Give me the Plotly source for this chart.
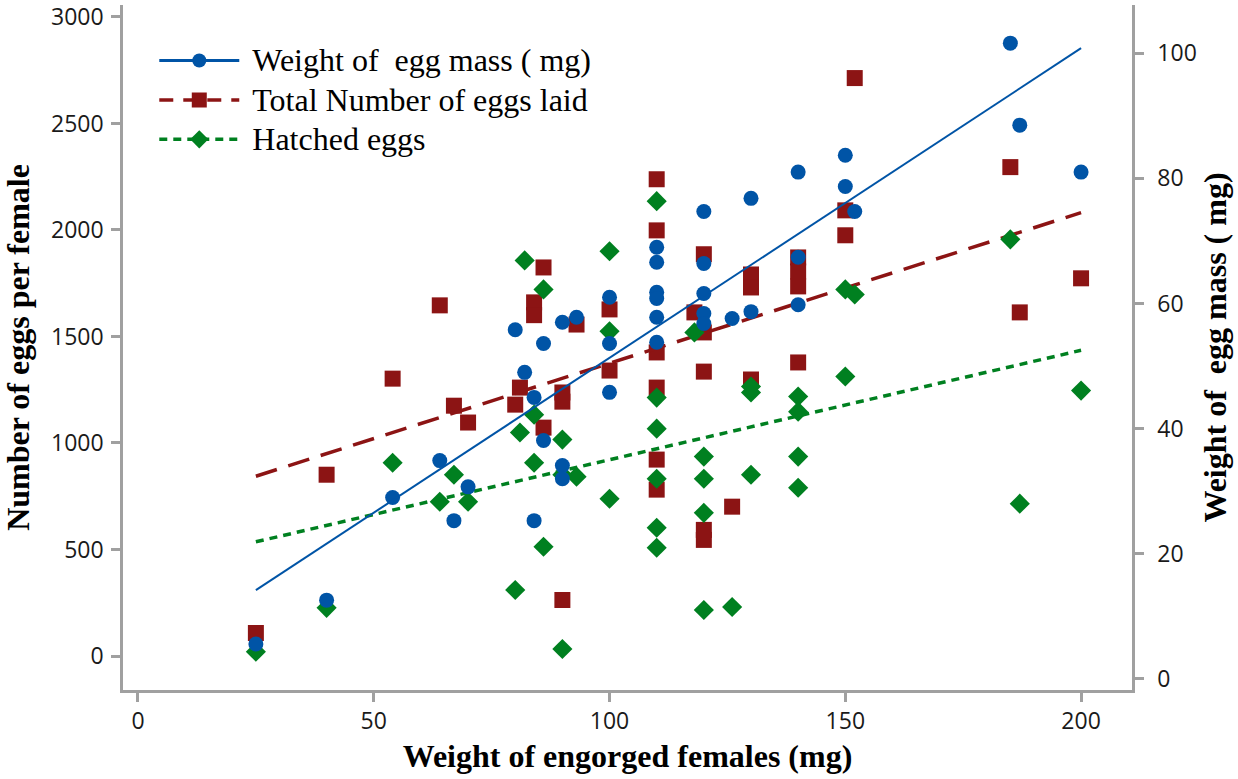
import plotly.graph_objects as go

# ---------------- data ----------------
mass_x = [25, 40, 54, 64, 67, 70, 80, 82, 84, 84, 86, 86, 90, 90, 90, 93,
          100, 100, 100, 110, 110, 110, 110, 110, 110, 120, 120, 120, 120, 120,
          126, 130, 130, 140, 140, 140, 150, 150, 152, 185, 187, 200]
mass_y = [5.6, 12.6, 29.0, 34.9, 25.3, 30.7, 55.8, 49.0, 45.0, 25.3, 53.6, 38.1,
          57.0, 34.1, 32.0, 57.8, 61.0, 53.6, 45.8, 69.0, 66.6, 61.8, 60.8, 57.8, 53.8,
          74.7, 66.4, 61.6, 58.4, 56.8, 57.6, 76.8, 58.7, 81.0, 67.4, 59.8,
          83.7, 78.7, 74.7, 101.6, 88.5, 81.0]

laid_x = [25, 40, 54, 64, 67, 70, 80, 81, 84, 84, 86, 86, 90, 90, 90, 93,
          100, 100, 110, 110, 110, 110, 110, 110, 118, 120, 120, 120, 120, 120,
          126, 130, 130, 130, 140, 140, 140, 140, 150, 150, 152, 185, 187, 200]
laid_y = [108, 851, 1302, 1646, 1175, 1096, 1180, 1260, 1660, 1600, 1824, 1072,
          1237, 1194, 263, 1556, 1627, 1340, 2238, 1998, 1425, 1260, 922, 781,
          1613, 1886, 1519, 1335, 592, 545, 701, 1791, 1730, 1298,
          1871, 1805, 1735, 1378, 2092, 1975, 2713, 2295, 1613, 1773]

hatch_x = [25, 40, 54, 64, 67, 70, 80, 81, 82, 84, 84, 86, 86, 90, 90, 90, 93,
           100, 100, 100, 110, 110, 110, 110, 110, 110, 118, 120, 120, 120, 120,
           126, 130, 130, 130, 140, 140, 140, 140, 150, 150, 152, 185, 187, 200]
hatch_y = [20, 226, 907, 724, 851, 724, 310, 1049, 1857, 1133, 907, 1721, 513,
           1016, 851, 33, 842, 1900, 1524, 738, 2135, 1213, 1067, 832, 602, 508,
           1519, 936, 832, 672, 216, 230, 1265, 1237, 851, 1218, 1147, 936, 790,
           1721, 1312, 1697, 1956, 715, 1246]

fit_x = [25, 200]
mass_fit = [14.2, 100.8]
laid_fit = [844, 2081]
hatch_fit = [536, 1435]

x_ticks = [0, 50, 100, 150, 200]
left_ticks = [0, 500, 1000, 1500, 2000, 2500, 3000]
right_ticks = [0, 20, 40, 60, 80, 100]

names = ["Weight of  egg mass ( mg)", "Total Number of eggs laid", "Hatched eggs"]

# ---------------- styles ----------------
BLUE = "rgb(0,84,166)"
RED = "rgb(140,20,20)"
GREEN = "rgb(0,128,32)"
AXC = "rgb(160,160,160)"
SERIF = "Liberation Serif"
SANS = "Open Sans"


def legend_label(t):
    return "<span style='font-size:32px'>\u00a0" + t + "</span>"


fig = go.Figure()

# blue: egg mass (right axis)
fig.add_trace(go.Scatter(x=mass_x, y=mass_y, yaxis="y2", mode="markers",
                         marker=dict(symbol="circle", size=15, color=BLUE),
                         showlegend=False, legendgroup="a"))
fig.add_trace(go.Scatter(x=fit_x, y=mass_fit, yaxis="y2", mode="lines",
                         line=dict(color=BLUE, width=2),
                         showlegend=False, legendgroup="a"))
# red: eggs laid
fig.add_trace(go.Scatter(x=laid_x, y=laid_y, mode="markers",
                         marker=dict(symbol="square", size=16, color=RED),
                         showlegend=False, legendgroup="b"))
fig.add_trace(go.Scatter(x=fit_x, y=laid_fit, mode="lines",
                         line=dict(color=RED, width=3.5, dash="22px,12px"),
                         showlegend=False, legendgroup="b"))
# green: hatched
fig.add_trace(go.Scatter(x=hatch_x, y=hatch_y, mode="markers",
                         marker=dict(symbol="diamond", size=15.5, color=GREEN),
                         showlegend=False, legendgroup="c"))
fig.add_trace(go.Scatter(x=fit_x, y=hatch_fit, mode="lines",
                         line=dict(color=GREEN, width=3.5, dash="8px,6px"),
                         showlegend=False, legendgroup="c"))

# legend entries
fig.add_trace(go.Scatter(x=[None], y=[None], mode="lines+markers", name=legend_label(names[0]),
                         line=dict(color=BLUE, width=3),
                         marker=dict(symbol="circle", size=14, color=BLUE)))
fig.add_trace(go.Scatter(x=[None], y=[None], mode="lines+markers", name=legend_label(names[1]),
                         line=dict(color=RED, width=3.5, dash="14px,10px"),
                         marker=dict(symbol="square", size=15, color=RED)))
fig.add_trace(go.Scatter(x=[None], y=[None], mode="lines+markers", name=legend_label(names[2]),
                         line=dict(color=GREEN, width=3.5, dash="8px,6px"),
                         marker=dict(symbol="diamond", size=14, color=GREEN)))

tickfont = dict(family=SANS, size=23, color="#1a1a1a")
titlefont = dict(family=SERIF, size=32, color="#000000", weight="bold")

common = dict(showgrid=False, zeroline=False, showline=True, linecolor=AXC, linewidth=2.5,
              ticks="outside", ticklen=9, tickwidth=2.5, tickcolor=AXC,
              tickfont=tickfont, automargin=False, ticklabeloverflow="allow")

fig.update_layout(
    width=1238, height=779,
    margin=dict(l=123, r=106, t=5, b=89),
    paper_bgcolor="white", plot_bgcolor="white",
    xaxis=dict(range=[-3.18, 210.8], tickvals=x_ticks,
               title=dict(text="Weight of engorged females (mg)", font=titlefont, standoff=10),
               **common),
    yaxis=dict(range=[-159.6, 3056], tickvals=left_ticks, ticklabelstandoff=3,
               title=dict(text="Number of eggs per female", font=titlefont, standoff=12),
               **common),
    yaxis2=dict(range=[-1.76, 107.7], tickvals=right_ticks, overlaying="y", side="right",
                ticklabelstandoff=9,
                title=dict(text="Weight of  egg mass ( mg)", font=titlefont, standoff=8),
                **common),
    legend=dict(x=0.031, y=0.955, xanchor="left", yanchor="top",
                font=dict(family=SERIF, size=28, color="#000000"),
                bgcolor="rgba(0,0,0,0)", itemwidth=80),
    showlegend=True,
)

fig.write_html("out.html", config={"displayModeBar": False},
               post_script="document.body.style.margin='0';")
